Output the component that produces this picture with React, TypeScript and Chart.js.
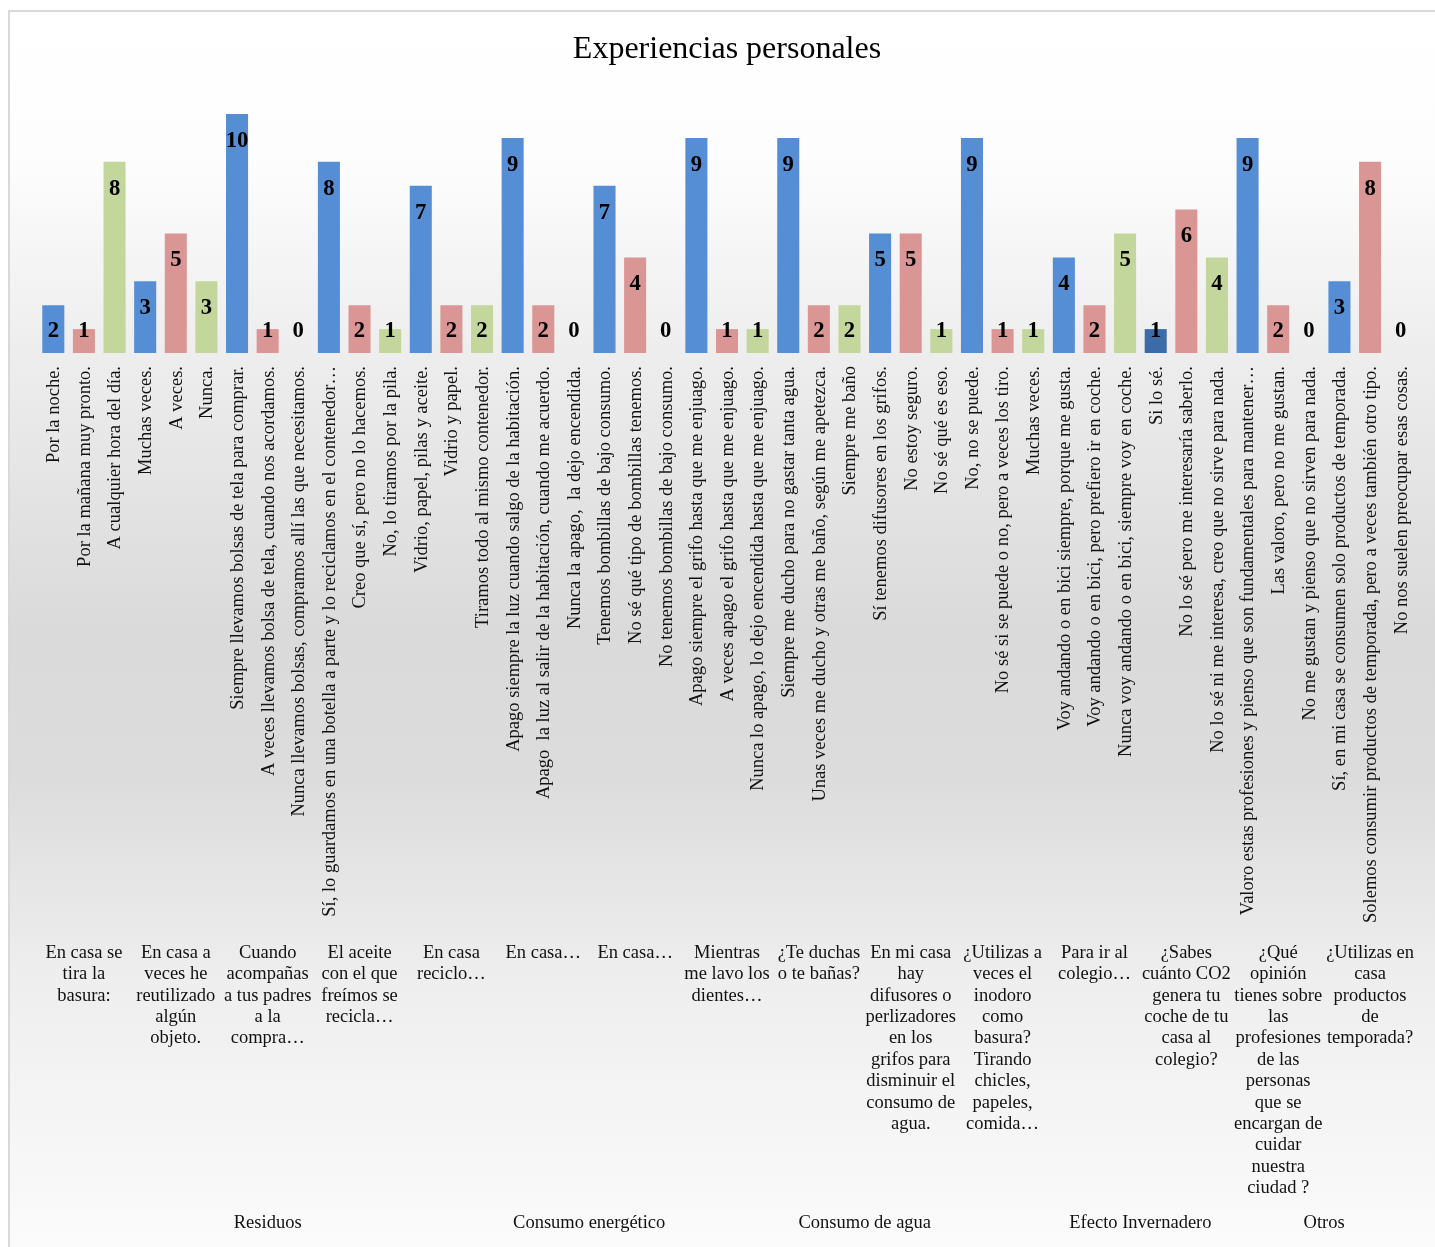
import React, { useEffect, useRef } from 'react';
import { Chart, registerables } from 'chart.js';

Chart.register(...registerables);

const chartTitle = 'Experiencias personales';

const answers: string[] = [
  'Por la noche.',
  'Por la mañana muy pronto.',
  'A cualquier hora del día.',
  'Muchas veces.',
  'A veces.',
  'Nunca.',
  'Siempre llevamos bolsas de tela para comprar.',
  'A veces llevamos bolsa de tela, cuando nos acordamos.',
  'Nunca llevamos bolsas, compramos allí las que necesitamos.',
  'Sí, lo guardamos en una botella a parte y lo reciclamos en el contenedor…',
  'Creo que sí, pero no lo hacemos.',
  'No, lo tiramos por la pila.',
  'Vidrio, papel, pilas y aceite.',
  'Vidrio y papel.',
  'Tiramos todo al mismo contenedor.',
  'Apago siempre la luz cuando salgo de la habitación.',
  'Apago  la luz al salir de la habitación, cuando me acuerdo.',
  'Nunca la apago,  la dejo encendida.',
  'Tenemos bombillas de bajo consumo.',
  'No sé qué tipo de bombillas tenemos.',
  'No tenemos bombillas de bajo consumo.',
  'Apago siempre el grifo hasta que me enjuago.',
  'A veces apago el grifo hasta que me enjuago.',
  'Nunca lo apago, lo dejo encendida hasta que me enjuago.',
  'Siempre me ducho para no gastar tanta agua.',
  'Unas veces me ducho y otras me baño, según me apetezca.',
  'Siempre me baño',
  'Sí tenemos difusores en los grifos.',
  'No estoy seguro.',
  'No sé qué es eso.',
  'No, no se puede.',
  'No sé si se puede o no, pero a veces los tiro.',
  'Muchas veces.',
  'Voy andando o en bici siempre, porque me gusta.',
  'Voy andando o en bici, pero prefiero ir en coche.',
  'Nunca voy andando o en bici, siempre voy en coche.',
  'Si lo sé.',
  'No lo sé pero me interesaría saberlo.',
  'No lo sé ni me interesa, creo que no sirve para nada.',
  'Valoro estas profesiones y pienso que son fundamentales para mantener…',
  'Las valoro, pero no me gustan.',
  'No me gustan y pienso que no sirven para nada.',
  'Sí, en mi casa se consumen solo productos de temporada.',
  'Solemos consumir productos de temporada, pero a veces también otro tipo.',
  'No nos suelen preocupar esas cosas.',
];

const values: number[] = [
  2, 1, 8,
  3, 5, 3,
  10, 1, 0,
  8, 2, 1,
  7, 2, 2,
  9, 2, 0,
  7, 4, 0,
  9, 1, 1,
  9, 2, 2,
  5, 5, 1,
  9, 1, 1,
  4, 2, 5,
  1, 6, 4,
  9, 2, 0,
  3, 8, 0,
];

const questions: string[][] = [
  ['En casa se', 'tira la', 'basura:'],
  ['En casa a', 'veces he', 'reutilizado', 'algún', 'objeto.'],
  ['Cuando', 'acompañas', 'a tus padres', 'a la', 'compra…'],
  ['El aceite', 'con el que', 'freímos se', 'recicla…'],
  ['En casa', 'reciclo…'],
  ['En casa…'],
  ['En casa…'],
  ['Mientras', 'me lavo los', 'dientes…'],
  ['¿Te duchas', 'o te bañas?'],
  ['En mi casa', 'hay', 'difusores o', 'perlizadores', 'en los', 'grifos para', 'disminuir el', 'consumo de', 'agua.'],
  ['¿Utilizas a', 'veces el', 'inodoro', 'como', 'basura?', 'Tirando', 'chicles,', 'papeles,', 'comida…'],
  ['Para ir al', 'colegio…'],
  ['¿Sabes', 'cuánto CO2', 'genera tu', 'coche de tu', 'casa al', 'colegio?'],
  ['¿Qué', 'opinión', 'tienes sobre', 'las', 'profesiones', 'de las', 'personas', 'que se', 'encargan de', 'cuidar', 'nuestra', 'ciudad ?'],
  ['¿Utilizas en', 'casa', 'productos', 'de', 'temporada?'],
];

const topics: string[] = ['Residuos', 'Consumo energético', 'Consumo de agua', 'Efecto Invernadero', 'Otros'];
const questionsPerTopic: number[] = [5, 2, 4, 2, 2];
const answersPerQuestion = 3;

const answerColors: string[] = ['#558ED5', '#D99694', '#C3D69B'];
const highlightedAnswer = 36;
const highlightColor = '#3B6CA9';

const SERIF = '"Liberation Serif", "Times New Roman", serif';

export default function App() {
  const canvasRef = useRef<HTMLCanvasElement | null>(null);

  useEffect(() => {
    const canvas = canvasRef.current;
    if (!canvas) return;

    const colors = values.map((_, i) =>
      i === highlightedAnswer ? highlightColor : answerColors[i % answersPerQuestion]
    );

    const decor = {
      id: 'decor',
      beforeDraw(chart: any) {
        const ctx = chart.ctx;
        const W = chart.width;
        const H = chart.height;
        ctx.save();
        ctx.fillStyle = '#ffffff';
        ctx.fillRect(0, 0, W, H);
        const g = ctx.createLinearGradient(0, 10, 0, H);
        g.addColorStop(0, '#ffffff');
        g.addColorStop(0.12, '#fdfdfd');
        g.addColorStop(0.27, '#eeeeee');
        g.addColorStop(0.5, '#dadada');
        g.addColorStop(0.62, '#dcdcdc');
        g.addColorStop(0.78, '#eeeeee');
        g.addColorStop(1, '#fbfbfb');
        ctx.fillStyle = g;
        ctx.fillRect(9, 11, W, H);
        ctx.strokeStyle = '#d9d9d9';
        ctx.lineWidth = 2;
        ctx.strokeRect(9, 11, W + 10, H + 10);
        ctx.restore();
      },
      afterDatasetsDraw(chart: any) {
        const ctx = chart.ctx;
        const meta = chart.getDatasetMeta(0);
        const base = chart.scales.y.getPixelForValue(0);
        ctx.save();
        ctx.font = `bold 22.7px ${SERIF}`;
        ctx.fillStyle = '#000000';
        ctx.textAlign = 'center';
        ctx.textBaseline = 'middle';
        meta.data.forEach((bar: any, i: number) => {
          const y = Math.min(bar.y + 27, base - 22);
          ctx.fillText(String(values[i]), bar.x, y);
        });
        ctx.restore();
      },
      afterDraw(chart: any) {
        const ctx = chart.ctx;
        const xs = chart.scales.x;
        const area = chart.chartArea;
        ctx.save();
        // title
        ctx.fillStyle = '#000000';
        ctx.font = `32px ${SERIF}`;
        ctx.textAlign = 'center';
        ctx.textBaseline = 'middle';
        ctx.fillText(chartTitle, (area.left + area.right) / 2, 50);

        // rotated answer labels
        ctx.font = `18.5px ${SERIF}`;
        ctx.fillStyle = '#111111';
        answers.forEach((label, i) => {
          const x = xs.getPixelForValue(i);
          ctx.save();
          ctx.translate(x + 1, area.bottom + 13);
          ctx.rotate(-Math.PI / 2);
          ctx.textAlign = 'right';
          ctx.textBaseline = 'middle';
          ctx.fillText(label, 0, 0);
          ctx.restore();
        });

        // question labels
        ctx.font = `18.5px ${SERIF}`;
        ctx.textAlign = 'center';
        ctx.textBaseline = 'middle';
        questions.forEach((lines, q) => {
          const x0 = xs.getPixelForValue(q * answersPerQuestion);
          const x1 = xs.getPixelForValue(q * answersPerQuestion + answersPerQuestion - 1);
          const cx = (x0 + x1) / 2;
          lines.forEach((line, k) => {
            ctx.fillText(line, cx, 953 + k * 21.4);
          });
        });

        // topic labels
        let start = 0;
        topics.forEach((topic, t) => {
          const n = questionsPerTopic[t] * answersPerQuestion;
          const x0 = xs.getPixelForValue(start);
          const x1 = xs.getPixelForValue(start + n - 1);
          ctx.fillText(topic, (x0 + x1) / 2, 1223);
          start += n;
        });
        ctx.restore();
      },
    };

    const chart = new Chart(canvas, {
      type: 'bar',
      data: {
        labels: answers,
        datasets: [
          {
            data: values,
            backgroundColor: colors,
            borderWidth: 0,
            barPercentage: 0.72,
            categoryPercentage: 1,
          },
        ],
      },
      options: {
        responsive: false,
        animation: false,
        devicePixelRatio: 1,
        layout: { padding: { left: 38, right: 19, top: 114, bottom: 894 } },
        plugins: {
          legend: { display: false },
          title: { display: false },
          tooltip: { enabled: false },
        },
        scales: {
          x: { display: false, grid: { display: false } },
          y: { display: false, min: 0, max: 10 },
        },
      },
      plugins: [decor],
    });

    return () => chart.destroy();
  }, []);

  return (
    <div style={{ position: 'fixed', left: 0, top: 0, width: 1435, height: 1247, overflow: 'hidden' }}>
      <canvas ref={canvasRef} width={1435} height={1247} style={{ display: 'block' }} />
    </div>
  );
}
